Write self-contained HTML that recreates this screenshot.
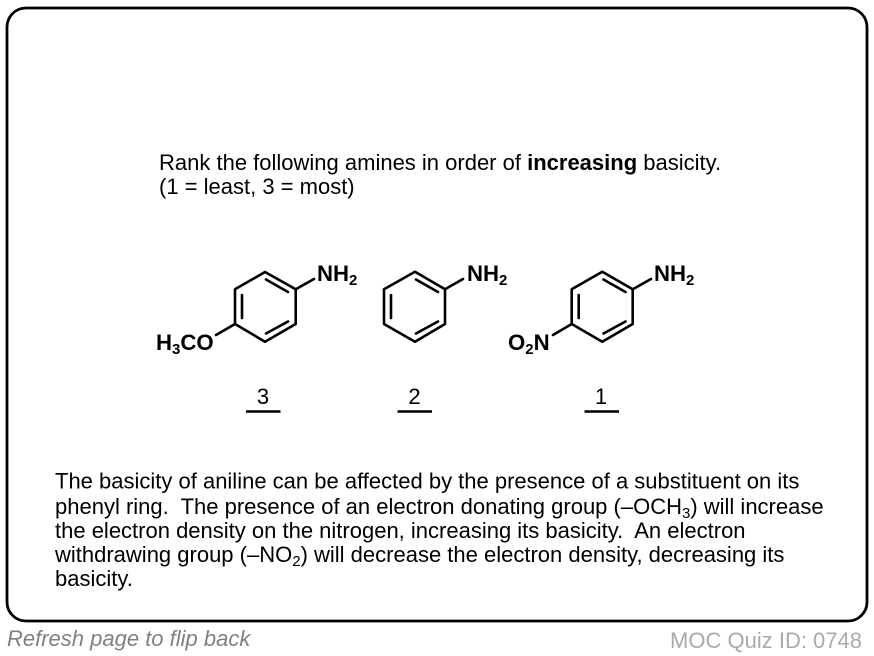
<!DOCTYPE html>
<html><head><meta charset="utf-8"><style>
html,body{margin:0;padding:0;background:#fff}
svg{display:block}
text{font-family:"Liberation Sans",Arial,sans-serif;fill:#000}
.t{font-size:22px}
.c{font-size:22.2px;font-weight:bold}
.s{font-size:15px;font-weight:bold}
.b{stroke:#000;stroke-width:2.6;fill:none;stroke-linecap:round;stroke-linejoin:round}
</style></head><body>
<svg width="874" height="656" viewBox="0 0 874 656" xmlns="http://www.w3.org/2000/svg">
<rect x="7" y="8" width="860" height="613" rx="19" ry="19" fill="#fff" stroke="#000" stroke-width="2.8"/>

<text class="t" x="159" y="170" xml:space="preserve">Rank the following amines in order of <tspan font-weight="bold">increasing</tspan> basicity.</text>
<text class="t" x="159" y="194">(1 = least, 3 = most)</text>

<!-- Molecule 3 -->
<path class="b" d="M265 272 L295.7 289.3 L295.7 324 L265 341.7 L235 324 L235 289.3 Z"/>
<path class="b" d="M266 279.5 L288 292 M288 321.5 L266 333.5 M242 318 L242 295"/>
<path class="b" d="M295.7 289.3 L314 279 M235 324 L216 335"/>
<text class="c" x="317" y="281">NH<tspan class="s" dy="4">2</tspan></text>
<text class="c" x="156" y="350">H<tspan class="s" dy="4">3</tspan><tspan dy="-4">CO</tspan></text>

<!-- Molecule 2 -->
<path class="b" d="M415 271.7 L445 289.3 L445 324 L415 341.7 L384 324 L384 289.3 Z"/>
<path class="b" d="M416 279.5 L438 292 M438 321.5 L416 333.5 M391 318 L391 295"/>
<path class="b" d="M445 289.3 L463 279"/>
<text class="c" x="467" y="281">NH<tspan class="s" dy="4">2</tspan></text>

<!-- Molecule 1 -->
<path class="b" d="M602.3 271.7 L632.7 289.3 L632.7 324 L602.3 341.7 L571.7 324 L571.7 289.3 Z"/>
<path class="b" d="M603.5 279.5 L625.5 292 M625.5 321.5 L603.5 333.5 M578.7 318 L578.7 295"/>
<path class="b" d="M632.7 289.3 L651 279 M571.7 324 L553 335"/>
<text class="c" x="654" y="281">NH<tspan class="s" dy="4">2</tspan></text>
<text class="c" x="508" y="350">O<tspan class="s" dy="4">2</tspan><tspan dy="-4">N</tspan></text>

<!-- Ranks -->
<text class="t" x="263" y="404" text-anchor="middle">3</text>
<text class="t" x="414.5" y="404" text-anchor="middle">2</text>
<text class="t" x="601" y="404" text-anchor="middle">1</text>
<path d="M246 411.5 H280.5 M397.5 411.5 H432 M584.5 411.5 H619" stroke="#000" stroke-width="2.4" fill="none"/>

<!-- Explanation -->
<text class="t" x="55" y="488.5">The basicity of aniline can be affected by the presence of a substituent on its</text>
<text class="t" x="55" y="514" xml:space="preserve">phenyl ring.  The presence of an electron donating group (–OCH<tspan font-size="15" dy="4">3</tspan><tspan dy="-4">) will increase</tspan></text>
<text class="t" x="55" y="538" xml:space="preserve">the electron density on the nitrogen, increasing its basicity.  An electron</text>
<text class="t" x="55" y="562">withdrawing group (–NO<tspan font-size="15" dy="4">2</tspan><tspan dy="-4">) will decrease the electron density, decreasing its</tspan></text>
<text class="t" x="55" y="586">basicity.</text>

<!-- Footer -->
<text x="7" y="646" font-size="22" font-style="italic" style="fill:#808080">Refresh page to flip back</text>
<text x="862" y="648" font-size="22" text-anchor="end" style="fill:#aaaaaa">MOC Quiz ID: 0748</text>
</svg>
</body></html>
